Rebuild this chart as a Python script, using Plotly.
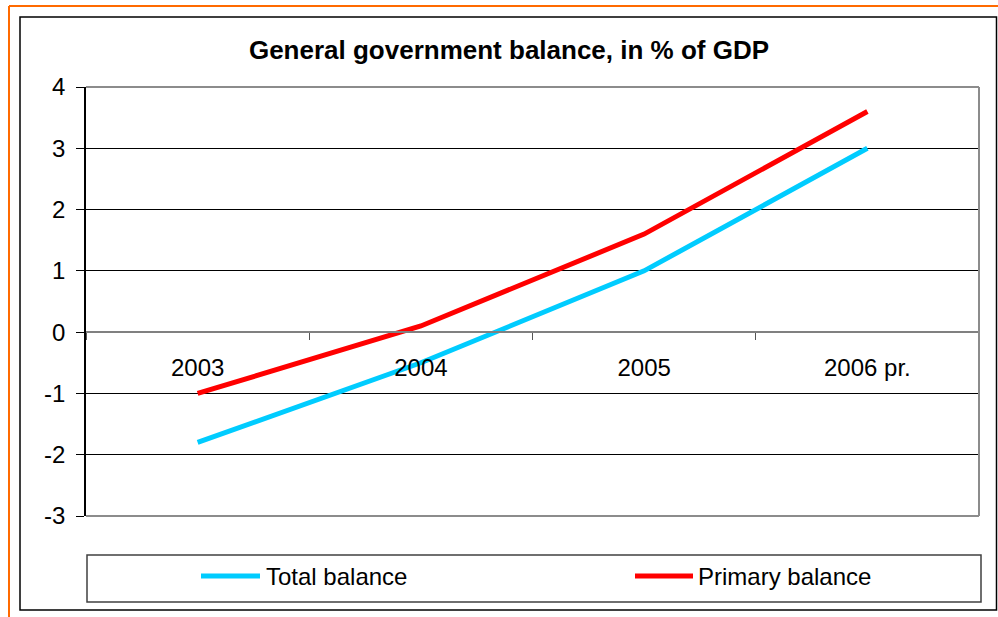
import plotly.graph_objects as go

# ---- data ----
categories = ["2003", "2004", "2005", "2006 pr."]
total_balance = [-1.8, -0.5, 1.0, 3.0]
primary_balance = [-1.0, 0.1, 1.6, 3.6]
series_names = ["Total balance", "Primary balance"]
y_ticks = [-3, -2, -1, 0, 1, 2, 3, 4]

W, H = 998, 617
L, R, T, B = 86, 979, 87, 516  # plot area in pixels

def px(x):
    return (x - L) / (R - L)

def py(y):
    return (B - y) / (B - T)

FONT = "Liberation Sans, Arial, sans-serif"
CYAN = "#00CCFF"
RED = "#FF0000"

fig = go.Figure()
fig.add_trace(go.Scatter(x=categories, y=total_balance, mode="lines",
                         line=dict(color=CYAN, width=5), name=series_names[0],
                         showlegend=False))
fig.add_trace(go.Scatter(x=categories, y=primary_balance, mode="lines",
                         line=dict(color=RED, width=5), name=series_names[1],
                         showlegend=False))

shapes = []
# orange outer border (top and left)
shapes.append(dict(type="line", xref="paper", yref="paper", x0=px(9), x1=px(1000), y0=py(6), y1=py(6),
                   line=dict(color="#FF6A00", width=2)))
shapes.append(dict(type="line", xref="paper", yref="paper", x0=px(9), x1=px(9), y0=py(6), y1=py(620),
                   line=dict(color="#FF6A00", width=2)))
# black chart frame
shapes.append(dict(type="rect", xref="paper", yref="paper", x0=px(20), x1=px(996.5), y0=py(17), y1=py(610),
                   line=dict(color="#000000", width=1.5)))
# plot area border (top / right / bottom gray)
shapes.append(dict(type="line", xref="paper", yref="paper", x0=0, x1=1, y0=1, y1=1,
                   line=dict(color="#8C8C8C", width=2), layer="above"))
shapes.append(dict(type="line", xref="paper", yref="paper", x0=1, x1=1, y0=0, y1=1,
                   line=dict(color="#8C8C8C", width=2), layer="above"))
shapes.append(dict(type="line", xref="paper", yref="paper", x0=0, x1=1, y0=0, y1=0,
                   line=dict(color="#8C8C8C", width=2), layer="above"))
# legend box
shapes.append(dict(type="rect", xref="paper", yref="paper", x0=px(87), x1=px(981), y0=py(555), y1=py(602),
                   line=dict(color="#404040", width=1.5)))
# legend samples
legend_y = 576
legend_items = [(201, 260, 264, CYAN), (635, 693, 696, RED)]
annotations = []
for (x0, x1, tx, col), name in zip(legend_items, series_names):
    shapes.append(dict(type="line", xref="paper", yref="paper", x0=px(x0), x1=px(x1),
                       y0=py(legend_y), y1=py(legend_y), line=dict(color=col, width=5)))
    annotations.append(dict(xref="paper", yref="paper", x=px(tx), y=py(legend_y), text=name,
                            showarrow=False, xanchor="left", yanchor="middle",
                            font=dict(family=FONT, size=24, color="#000000")))

fig.update_layout(
    width=W, height=H,
    margin=dict(l=L, r=W - R, t=T, b=H - B, pad=0),
    paper_bgcolor="white", plot_bgcolor="white",
    title=dict(text="<b>General government balance, in % of GDP</b>",
               x=509 / W, xanchor="center", xref="container",
               y=1 - 50 / H, yanchor="middle", yref="container",
               font=dict(family=FONT, size=26, color="#000000")),
    shapes=shapes,
    annotations=annotations,
    showlegend=False,
    xaxis=dict(type="category", categoryorder="array", categoryarray=categories,
               range=[-0.5, 3.5], anchor="free", position=3 / 7,
               showline=True, linecolor="#808080", linewidth=2,
               ticks="outside", ticklen=7, tickcolor="#555555", tickwidth=1,
               tickson="boundaries", showgrid=False, zeroline=False,
               ticklabelstandoff=14,
               tickfont=dict(family=FONT, size=24, color="#000000")),
    yaxis=dict(range=[-3, 4], tickvals=y_ticks, ticktext=[str(v) for v in y_ticks],
               showline=True, linecolor="#000000", linewidth=1.5,
               ticks="outside", ticklen=8, tickcolor="#000000", tickwidth=1,
               showgrid=True, gridcolor="#000000", gridwidth=1, zeroline=False,
               ticklabelstandoff=6,
               tickfont=dict(family=FONT, size=24, color="#000000")),
)

fig.write_html("out.html")
